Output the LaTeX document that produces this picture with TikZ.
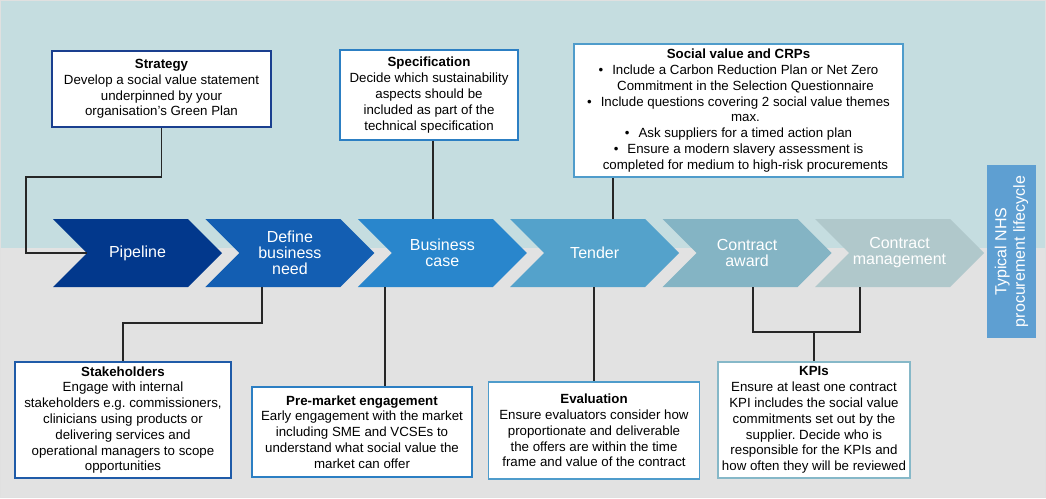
\documentclass[tikz,border=0pt]{standalone}
\usepackage{fontspec}
\setmainfont{Liberation Sans}
\frenchspacing
\definecolor{bggrey}{RGB}{226,226,226}
\definecolor{bgteal}{RGB}{197,221,224}
\definecolor{chA}{RGB}{2,56,140}
\definecolor{chB}{RGB}{19,94,178}
\definecolor{chC}{RGB}{41,134,204}
\definecolor{chD}{RGB}{84,162,203}
\definecolor{chE}{RGB}{132,180,196}
\definecolor{chF}{RGB}{176,200,203}
\definecolor{sidebox}{RGB}{94,159,210}
\definecolor{bdA}{RGB}{26,63,143}
\definecolor{bdB}{RGB}{31,91,168}
\definecolor{bdC}{RGB}{44,127,195}
\definecolor{bdD}{RGB}{79,156,203}
\definecolor{bdE}{RGB}{134,184,200}
\newcommand\chevshape[4]{%
  \fill[#2] (#1,219) -- ++(135,0) -- ++(34,34) -- ++(-34,34) -- ++(-135,0) -- ++(34,-34) -- cycle;
  \node[chevtext] (#3) at ({#1+84.5},253) {#4};}
\begin{document}
\begin{tikzpicture}[x=1pt,y=-1pt,
  chevtext/.style={text=white,font=\fontsize{16}{16}\selectfont,align=center,inner sep=0pt},
  infobox/.style={draw,line width=1.8pt,fill=white,align=center,inner sep=0pt,font=\fontsize{13.3}{15.8}\selectfont},
  conn/.style={draw=black!85,line width=1.1pt}]
\useasboundingbox (0,0) rectangle (1046,498);
\fill[bggrey] (0,0) rectangle (1046,498);
\fill[bgteal] (0,0) rectangle (1046,248);
\draw[black!12,line width=0.8pt] (0.4,0.4) rectangle (1045.6,497.6);

% chevrons
\chevshape{53}{chA}{pipe}{Pipeline}
\chevshape{205.4}{chB}{define}{Define\\business\\need}
\chevshape{357.8}{chC}{bcase}{Business\\case}
\chevshape{510.2}{chD}{tender}{Tender}
\chevshape{662.6}{chE}{award}{Contract\\award}
\chevshape{815}{chF}{manage}{Contract\\management}

% side label
\node[fill=sidebox,text=white,rotate=90,minimum width=173pt,minimum height=49pt,inner sep=0pt,align=center,
  font=\fontsize{16}{18.5}\selectfont] (side) at (1011.5,251.5) {Typical NHS\\procurement lifecycle};

% named points on chevrons
\coordinate (pnotch) at (87,253);
\coordinate (bend1) at (26,177);
\coordinate (bcT) at (433,219);
\coordinate (tdT) at (613,219);
\coordinate (dfB) at (262,287);
\coordinate (bcB) at (385,287);
\coordinate (tdB) at (594,287);
\coordinate (caB) at (753,287);
\coordinate (cmB) at (860,287);
\coordinate (kj) at (814,332);

% boxes
\node[infobox,draw=bdA,minimum width=219pt,minimum height=76pt] (strat) at (161.5,89)
  {\textbf{Strategy}\\Develop a social value statement\\underpinned by your\\organisation’s Green Plan};
\node[infobox,draw=bdC,minimum width=178pt,minimum height=90pt] (spec) at (429,95)
  {\textbf{Specification}\\Decide which sustainability\\aspects should be\\included as part of the\\technical specification};
\node[infobox,draw=bdD,minimum width=329pt,minimum height=133pt] (social) at (738.5,110.5)
  {\textbf{Social value and CRPs}\\
   •\hspace{9pt}Include a Carbon Reduction Plan or Net Zero\\
   \hspace*{14pt}Commitment in the Selection Questionnaire\\
   •\hspace{9pt}Include questions covering 2 social value themes\\
   \hspace*{14pt}max.\\
   •\hspace{9pt}Ask suppliers for a timed action plan\\
   •\hspace{9pt}Ensure a modern slavery assessment is\\
   \hspace*{14pt}completed for medium to high-risk procurements};
\node[infobox,draw=bdB,minimum width=216pt,minimum height=116pt] (stake) at (123,420)
  {\textbf{Stakeholders}\\Engage with internal\\stakeholders e.g. commissioners,\\clinicians using products or\\delivering services and\\operational managers to scope\\opportunities};
\node[infobox,draw=bdC,minimum width=220pt,minimum height=90pt] (premkt) at (362,432)
  {\textbf{Pre-market engagement}\\Early engagement with the market\\including SME and VCSEs to\\understand what social value the\\market can offer};
\node[infobox,draw=bdD,minimum width=211pt,minimum height=97pt] (eval) at (594,430.5)
  {\textbf{Evaluation}\\Ensure evaluators consider how\\proportionate and deliverable\\the offers are within the time\\frame and value of the contract};
\node[infobox,draw=bdE,minimum width=192pt,minimum height=116pt] (kpi) at (814,420)
  {\textbf{KPIs}\\Ensure at least one contract\\KPI includes the social value\\commitments set out by the\\supplier. Decide who is\\responsible for the KPIs and\\how often they will be reviewed};

% connectors
\draw[conn] (strat.south) |- (bend1) |- (pnotch);
\draw[conn] (spec.south -| bcT) -- (bcT);
\draw[conn] (social.south -| tdT) -- (tdT);
\draw[conn] (dfB) -- ++(0,36) -| (stake.north);
\draw[conn] (bcB) -- (bcB |- premkt.north);
\draw[conn] (tdB) -- (eval.north);
\draw[conn] (caB) |- (kj) -| (cmB);
\draw[conn] (kj) -- (kpi.north);
\end{tikzpicture}
\end{document}
